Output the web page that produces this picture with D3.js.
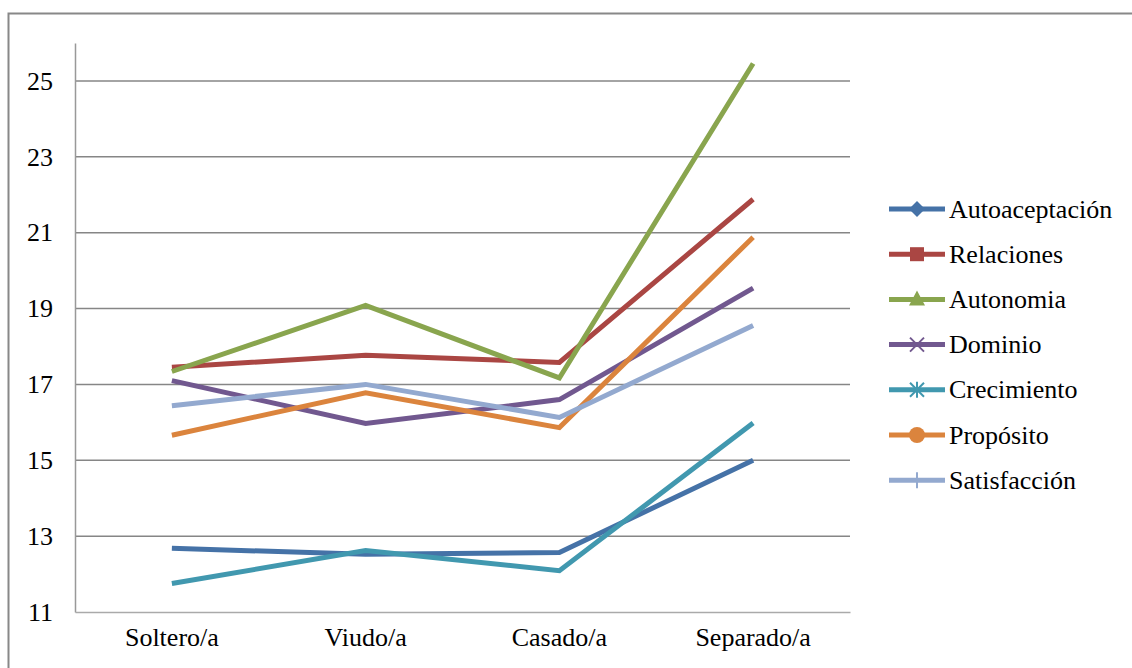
<!DOCTYPE html>
<html>
<head>
<meta charset="utf-8">
<script src="https://cdn.jsdelivr.net/npm/d3@7"></script>
<style>
  html, body { margin: 0; padding: 0; background: #fff; }
  svg { display: block; }
</style>
</head>
<body>
<svg id="chart" width="1132" height="668"></svg>
<script>
// Marital status groups along the x axis
const categories = ["Soltero/a", "Viudo/a", "Casado/a", "Separado/a"];

// Mean scores per well-being dimension
const seriesNames = ["Autoaceptación", "Relaciones", "Autonomia", "Dominio", "Crecimiento", "Propósito", "Satisfacción"];
const autoaceptacion = [12.68, 12.52, 12.57, 15.0];
const relaciones     = [17.45, 17.77, 17.58, 21.88];
const autonomia      = [17.34, 19.08, 17.17, 25.46];
const dominio        = [17.1, 15.97, 16.6, 19.54];
const crecimiento    = [11.75, 12.62, 12.09, 15.98];
const proposito      = [15.66, 16.78, 15.86, 20.88];
const satisfaccion   = [16.44, 17.0, 16.13, 18.55];

const yTicks = [11, 13, 15, 17, 19, 21, 23, 25];

const seriesValues = [autoaceptacion, relaciones, autonomia, dominio, crecimiento, proposito, satisfaccion];
const colors = ["#4572A7", "#AA4643", "#89A54E", "#71588F", "#4198AF", "#DB843D", "#93A9CF"];
const markers = ["diamond", "square", "triangle", "x", "star", "circle", "plus"];

const FONT = "'Liberation Serif', 'Times New Roman', serif";
const FONT_SIZE = "26px";

const svg = d3.select("#chart");

// Outer chart-area frame
svg.append("rect")
  .attr("x", 8.5).attr("y", 13.5)
  .attr("width", 1140).attr("height", 700)
  .attr("fill", "none").attr("stroke", "#888").attr("stroke-width", 2);

const plot = { left: 75, right: 850, top: 43, bottom: 612 };

const x = d3.scaleBand().domain(categories).range([plot.left, plot.right]);
const y = d3.scaleLinear().domain([11, 26]).range([plot.bottom, plot.top]);

// Horizontal gridlines
svg.append("g")
  .selectAll("line")
  .data(yTicks.filter(t => t > 11))
  .join("line")
  .attr("x1", plot.left).attr("x2", plot.right)
  .attr("y1", d => y(d)).attr("y2", d => y(d))
  .attr("stroke", "#868686").attr("stroke-width", 1.5);

// Y axis
const yAxis = svg.append("g")
  .attr("transform", `translate(${plot.left},0)`)
  .call(d3.axisLeft(y).tickValues(yTicks).tickSize(0).tickPadding(22).tickFormat(d3.format("d")));
yAxis.attr("font-family", null).attr("font-size", null);
yAxis.select(".domain").attr("stroke", "#999").attr("stroke-width", 1.5);
yAxis.selectAll("text").style("font-family", FONT).style("font-size", FONT_SIZE).attr("fill", "#000");

// X axis
const xAxis = svg.append("g")
  .attr("transform", `translate(0,${plot.bottom})`)
  .call(d3.axisBottom(x).tickSize(0).tickPadding(16));
xAxis.attr("font-family", null).attr("font-size", null);
xAxis.select(".domain").attr("stroke", "#aaa").attr("stroke-width", 1.5);
xAxis.selectAll("text").style("font-family", FONT).style("font-size", FONT_SIZE).attr("fill", "#000");

// Series lines
const line = d3.line()
  .x((d, i) => x(categories[i]) + x.bandwidth() / 2)
  .y(d => y(d));

svg.append("g")
  .selectAll("path")
  .data(seriesValues)
  .join("path")
  .attr("d", d => line(d))
  .attr("fill", "none")
  .attr("stroke", (d, i) => colors[i])
  .attr("stroke-width", 5)
  .attr("stroke-linejoin", "miter");

// Legend
const legend = svg.append("g");
const rowY = i => 209 + i * 45.2;
seriesNames.forEach((name, i) => {
  const g = legend.append("g").attr("transform", `translate(0,${rowY(i)})`);
  const c = colors[i];
  g.append("line").attr("x1", 889).attr("x2", 945).attr("y1", 0).attr("y2", 0)
    .attr("stroke", c).attr("stroke-width", 5);
  const cx = 917;
  const m = markers[i];
  if (m === "diamond") {
    g.append("path").attr("d", `M${cx},-8L${cx + 8},0L${cx},8L${cx - 8},0Z`).attr("fill", c);
  } else if (m === "square") {
    g.append("rect").attr("x", cx - 7).attr("y", -7).attr("width", 14).attr("height", 14).attr("fill", c);
  } else if (m === "triangle") {
    g.append("path").attr("d", `M${cx},-9L${cx + 8},6L${cx - 8},6Z`).attr("fill", c);
  } else if (m === "x") {
    g.append("path").attr("d", `M${cx - 7},-7L${cx + 7},7M${cx + 7},-7L${cx - 7},7`)
      .attr("stroke", c).attr("stroke-width", 2);
  } else if (m === "star") {
    g.append("path").attr("d", `M${cx - 7},-7L${cx + 7},7M${cx + 7},-7L${cx - 7},7M${cx},-8L${cx},8`)
      .attr("stroke", c).attr("stroke-width", 2);
  } else if (m === "circle") {
    g.append("circle").attr("cx", cx).attr("cy", 0).attr("r", 8).attr("fill", c);
  } else if (m === "plus") {
    g.append("path").attr("d", `M${cx},-8L${cx},8`).attr("stroke", c).attr("stroke-width", 2);
  }
  g.append("text").attr("x", 949).attr("y", 0).attr("dy", "0.33em")
    .style("font-family", FONT).style("font-size", FONT_SIZE).attr("fill", "#000").text(name);
});
</script>
</body>
</html>
